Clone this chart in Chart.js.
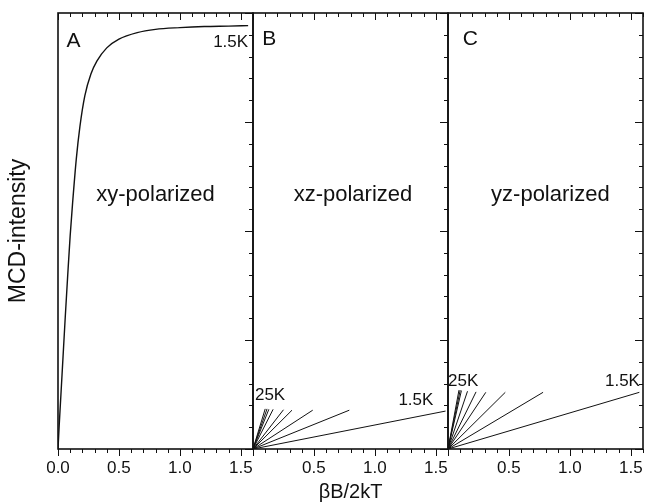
<!DOCTYPE html>
<html>
<head>
<meta charset="utf-8">
<script src="https://cdn.jsdelivr.net/npm/chart.js@4"></script>
<style>
  html, body { margin: 0; padding: 0; background: #fff; }
  #wrap { position: relative; width: 645px; height: 504px; overflow: hidden; background: #fff; }
  #wrap canvas { position: absolute; top: 0; }
</style>
</head>
<body>
<div id="wrap">
  <canvas id="panelA" width="278" height="504" style="left:0px"></canvas>
  <canvas id="panelB" width="245" height="504" style="left:228px"></canvas>
  <canvas id="panelC" width="245" height="504" style="left:423px"></canvas>
</div>
<script>
// x tick labels, shared by the three panels
const xTicks = [0, 0.5, 1.0, 1.5];

// panel A: xy-polarized, 1.5K saturation curve
const xyX = [0, 0.01, 0.02, 0.04, 0.06, 0.08, 0.10, 0.12, 0.15, 0.18, 0.22, 0.27, 0.32, 0.40, 0.50, 0.65, 0.80, 1.00, 1.20, 1.40, 1.56];
const xyY = [0, 1.1, 2.1, 4.1, 6.1, 8.0, 9.8, 11.3, 13.3, 14.8, 16.2, 17.2, 17.8, 18.4, 18.8, 19.1, 19.25, 19.33, 19.38, 19.4, 19.42];

// panels B and C: one line per temperature, from the origin to its end point
const temps = ['1.5K', '3K', '5K', '7.5K', '10K', '15K', '18K', '20K', '25K'];
const xzEndX = [1.58, 0.79, 0.49, 0.32, 0.25, 0.165, 0.13, 0.115, 0.10];
const xzEndY = [1.74, 1.78, 1.78, 1.78, 1.80, 1.82, 1.82, 1.84, 1.84];
const yzEndX = [1.57, 0.78, 0.47, 0.31, 0.23, 0.16, 0.11, 0.10, 0.09];
const yzEndY = [2.60, 2.60, 2.60, 2.60, 2.62, 2.65, 2.68, 2.70, 2.70];

const FONT = "'Liberation Sans', Arial, Helvetica, sans-serif";
const INK = '#111';

// box, ticks on top (in), bottom (out) and right (in)
const frame = {
  id: 'frame',
  afterDatasetsDraw(chart) {
    const { ctx, chartArea: a, scales: { x, y } } = chart;
    ctx.save();
    ctx.strokeStyle = INK;
    ctx.lineWidth = 1;
    ctx.beginPath();
    for (let i = 0; i <= 16; i++) {
      const px = Math.round(x.getPixelForValue(i / 10)) + 0.5;
      const len = i % 5 === 0 ? 7 : 4;
      ctx.moveTo(px, a.top); ctx.lineTo(px, a.top + len);
      ctx.moveTo(px, a.bottom); ctx.lineTo(px, a.bottom + len);
    }
    for (let j = 0; j <= 20; j++) {
      const py = Math.round(y.getPixelForValue(j)) + 0.5;
      const len = j % 5 === 0 ? 8 : 4;
      ctx.moveTo(a.right, py); ctx.lineTo(a.right - len, py);
    }
    ctx.stroke();
    ctx.lineWidth = 1.6;
    ctx.strokeRect(a.left, a.top, a.right - a.left, a.bottom - a.top);
    ctx.restore();
  }
};

// text notes placed in data coordinates
const notes = {
  id: 'notes',
  afterDraw(chart, args, opts) {
    const { ctx, scales: { x, y } } = chart;
    ctx.save();
    ctx.fillStyle = INK;
    ctx.textBaseline = 'middle';
    (opts.items || []).forEach(n => {
      ctx.font = n.size + 'px ' + FONT;
      ctx.textAlign = n.align;
      ctx.fillText(n.text, x.getPixelForValue(n.x), y.getPixelForValue(n.y));
    });
    ctx.restore();
  }
};

function fan(endX, endY) {
  return temps.map((t, i) => ({
    label: t,
    data: [{ x: 0, y: 0 }, { x: endX[i], y: endY[i] }],
    borderColor: INK,
    borderWidth: 1,
    pointRadius: 0
  }));
}

function panel(id, cfg) {
  return new Chart(document.getElementById(id), {
    type: 'line',
    data: { datasets: cfg.datasets },
    options: {
      responsive: false,
      animation: false,
      devicePixelRatio: 1,
      layout: { padding: cfg.pad },
      plugins: {
        legend: { display: false },
        tooltip: { enabled: false },
        notes: { items: cfg.notes }
      },
      scales: {
        x: {
          type: 'linear',
          min: 0,
          max: 1.6,
          grid: { display: false, drawTicks: true, tickLength: 8 },
          border: { display: false },
          afterBuildTicks: s => { s.ticks = xTicks.map(v => ({ value: v })); },
          ticks: {
            color: INK,
            padding: 1,
            maxRotation: 0,
            font: { family: FONT, size: 17 },
            callback: v => (v === 0 && !cfg.zeroLabel) ? '' : Number(v).toFixed(1)
          },
          title: {
            display: !!cfg.xTitle,
            text: cfg.xTitle || '',
            color: INK,
            font: { family: FONT, size: 20 },
            padding: { top: 0, bottom: 0 }
          },
          afterFit: s => { s.height = 55; }
        },
        y: {
          min: 0,
          max: 20,
          display: !!cfg.yTitle,
          grid: { display: false, drawTicks: false },
          border: { display: false },
          ticks: { display: false },
          title: {
            display: !!cfg.yTitle,
            text: cfg.yTitle || '',
            color: INK,
            font: { family: FONT, size: 23 },
            padding: { top: 0, bottom: 0 }
          },
          afterFit: s => { if (cfg.yTitle) s.width = 53; }
        }
      }
    },
    plugins: [frame, notes]
  });
}

panel('panelA', {
  pad: { left: 5, right: 25, top: 13, bottom: 0 },
  zeroLabel: true,
  yTitle: 'MCD-intensity',
  datasets: [{
    label: '1.5K',
    data: xyX.map((v, i) => ({ x: v, y: xyY[i] })),
    borderColor: INK,
    borderWidth: 1.4,
    pointRadius: 0,
    cubicInterpolationMode: 'monotone'
  }],
  notes: [
    { text: 'A', x: 0.07, y: 18.7, align: 'left', size: 21 },
    { text: '1.5K', x: 1.56, y: 18.65, align: 'right', size: 17 },
    { text: 'xy-polarized', x: 0.80, y: 11.65, align: 'center', size: 22 }
  ]
});

panel('panelB', {
  pad: { left: 25, right: 25, top: 13, bottom: 0 },
  xTitle: 'βB/2kT',
  datasets: fan(xzEndX, xzEndY),
  notes: [
    { text: 'B', x: 0.075, y: 18.8, align: 'left', size: 21 },
    { text: 'xz-polarized', x: 0.82, y: 11.65, align: 'center', size: 22 },
    { text: '25K', x: 0.016, y: 2.45, align: 'left', size: 17 },
    { text: '1.5K', x: 1.48, y: 2.25, align: 'right', size: 17 }
  ]
});

panel('panelC', {
  pad: { left: 25, right: 25, top: 13, bottom: 0 },
  datasets: fan(yzEndX, yzEndY),
  notes: [
    { text: 'C', x: 0.12, y: 18.8, align: 'left', size: 21 },
    { text: 'yz-polarized', x: 0.84, y: 11.65, align: 'center', size: 22 },
    { text: '25K', x: 0.0, y: 3.1, align: 'left', size: 17 },
    { text: '1.5K', x: 1.575, y: 3.1, align: 'right', size: 17 }
  ]
});
</script>
</body>
</html>
